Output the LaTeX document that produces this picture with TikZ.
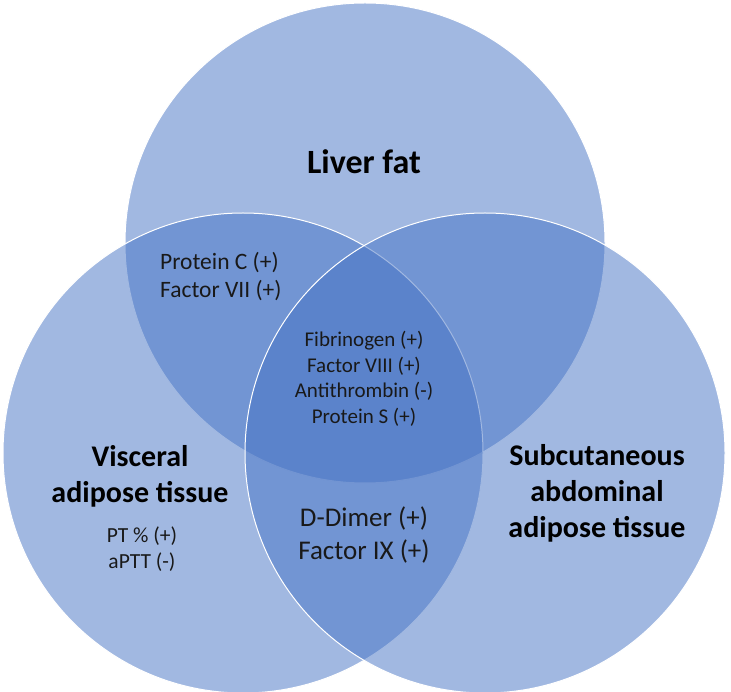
\documentclass[tikz,border=0pt]{standalone}
\usepackage{fontspec}
\setmainfont{Carlito}
\definecolor{vennblue}{RGB}{68,114,196}

\begin{document}
\begin{tikzpicture}[x=1pt,y=-1pt,
  circ/.style={fill=vennblue,fill opacity=0.5,draw=white,line width=1pt},
  title/.style={font=\fontsize{30}{36}\selectfont\bfseries,align=center,inner sep=0pt},
  items/.style={font=\fontsize{21}{25.5}\selectfont,align=center,inner sep=0pt,text=black!90}]
\useasboundingbox (0,0) rectangle (731,692);

% the three sets
\coordinate (liverC) at (365,243);
\coordinate (visceralC) at (243,453);
\coordinate (subcutC) at (485,453);
\draw [circ] (liverC) circle (240pt);
\draw [circ] (visceralC) circle (240pt);
\draw [circ] (subcutC) circle (240pt);

% set names
\node [title,font=\fontsize{34}{40}\selectfont\bfseries] (liver) at (364,162) {Liver fat};
\node [title] (visceral) at (140,476) {Visceral\\adipose tissue};
\node [title] (subcut) at (597,493) {Subcutaneous\\abdominal\\adipose tissue};

% overlaps
\node [items,align=left,anchor=west,font=\fontsize{23.5}{28}\selectfont] (liverVisc) at (160,277) {Protein C (+)\\Factor VII (+)};
\node [items] (core) at (364,379) {Fibrinogen (+)\\Factor VIII (+)\\Antithrombin (-)\\Protein S (+)};
\node [items,font=\fontsize{27}{33.5}\selectfont] (viscSubcut) at (364,535) {D-Dimer (+)\\Factor IX (+)};
\node [items,font=\fontsize{21.5}{26}\selectfont] (viscOnly) at (142,549) {PT \% (+)\\aPTT (-)};

\end{tikzpicture}
\end{document}
